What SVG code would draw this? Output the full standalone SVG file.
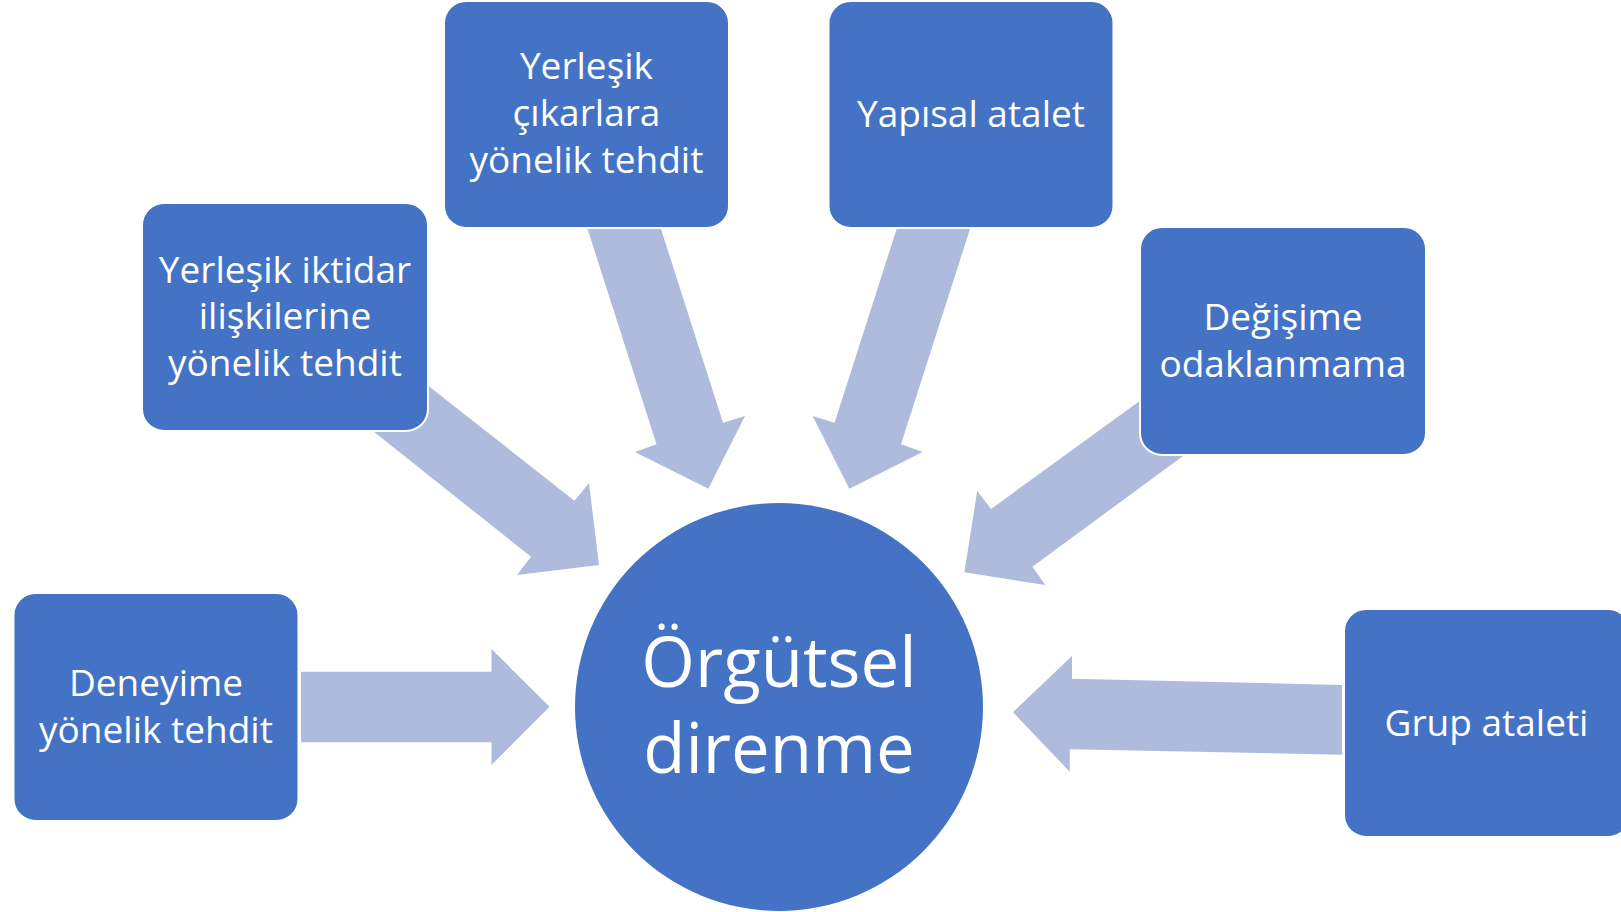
<svg xmlns="http://www.w3.org/2000/svg" width="1621" height="912" viewBox="0 0 1621 912">
<style>
.box{fill:#4472C4;stroke:#FFFFFF;stroke-width:2}
.arr{fill:#AFBBDD}
.t{font-family:"Open Sans","Noto Sans","Liberation Sans",sans-serif;font-size:37px;fill:#FFFFFF;text-anchor:middle}
.c{font-size:69px}
</style>
<rect width="1621" height="912" fill="#FFFFFF"/>
<g id="connectors">
<polygon class="arr" points="398,362 574.5,500.7 589,483.3 599,565 517,575 531,556.7 344.6,408.6"/>
<polygon class="arr" points="587.6,229 661,229 723,422.7 745,416 708.3,488.7 634.9,452 656.5,444.3"/>
<polygon class="arr" points="896.6,229 970,229 901,444.3 922.7,452 849.3,488.7 812.6,416 834.6,422.7"/>
<polygon class="arr" points="1170,379 991,509 977.2,491 964.4,572.3 1045.3,585 1032.4,566.7 1213.6,433.6"/>
<polygon class="arr" points="301,671.7 491.5,671.7 491.5,649 549.6,706.7 491.5,765 491.5,742.3 301,742.3"/>
<polygon class="arr" points="1342,685 1072,678.7 1072,656 1012.9,712.3 1069.8,771.7 1069.8,749.3 1342,754.7"/>
</g>
<g id="node-center">
<circle cx="779" cy="707" r="204" fill="#4472C4"/>
<text class="t c" x="779" y="687">Örgütsel</text>
<text class="t c" x="779" y="773">direnme</text>
</g>
<g id="node-iktidar">
<rect class="box" x="142" y="203" width="286" height="228" rx="22"/>
<text class="t" x="285" y="283">Yerleşik iktidar</text>
<text class="t" x="285" y="329">ilişkilerine</text>
<text class="t" x="285" y="376">yönelik tehdit</text>
</g>
<g id="node-cikarlar">
<rect class="box" x="444" y="1" width="285" height="227" rx="22"/>
<text class="t" x="586.5" y="79">Yerleşik</text>
<text class="t" x="586.5" y="126">çıkarlara</text>
<text class="t" x="586.5" y="173">yönelik tehdit</text>
</g>
<g id="node-yapisal">
<rect class="box" x="828.5" y="1" width="285" height="227" rx="22"/>
<text class="t" x="971" y="127">Yapısal atalet</text>
</g>
<g id="node-degisime">
<rect class="box" x="1140" y="227" width="286" height="228" rx="22"/>
<text class="t" x="1283" y="330">Değişime</text>
<text class="t" x="1283" y="377">odaklanmama</text>
</g>
<g id="node-deneyime">
<rect class="box" x="13.5" y="593" width="285" height="228" rx="22"/>
<text class="t" x="156" y="696">Deneyime</text>
<text class="t" x="156" y="743">yönelik tehdit</text>
</g>
<g id="node-grup">
<rect class="box" x="1344" y="609" width="286" height="228" rx="22"/>
<text class="t" x="1486.5" y="736">Grup ataleti</text>
</g>
</svg>
